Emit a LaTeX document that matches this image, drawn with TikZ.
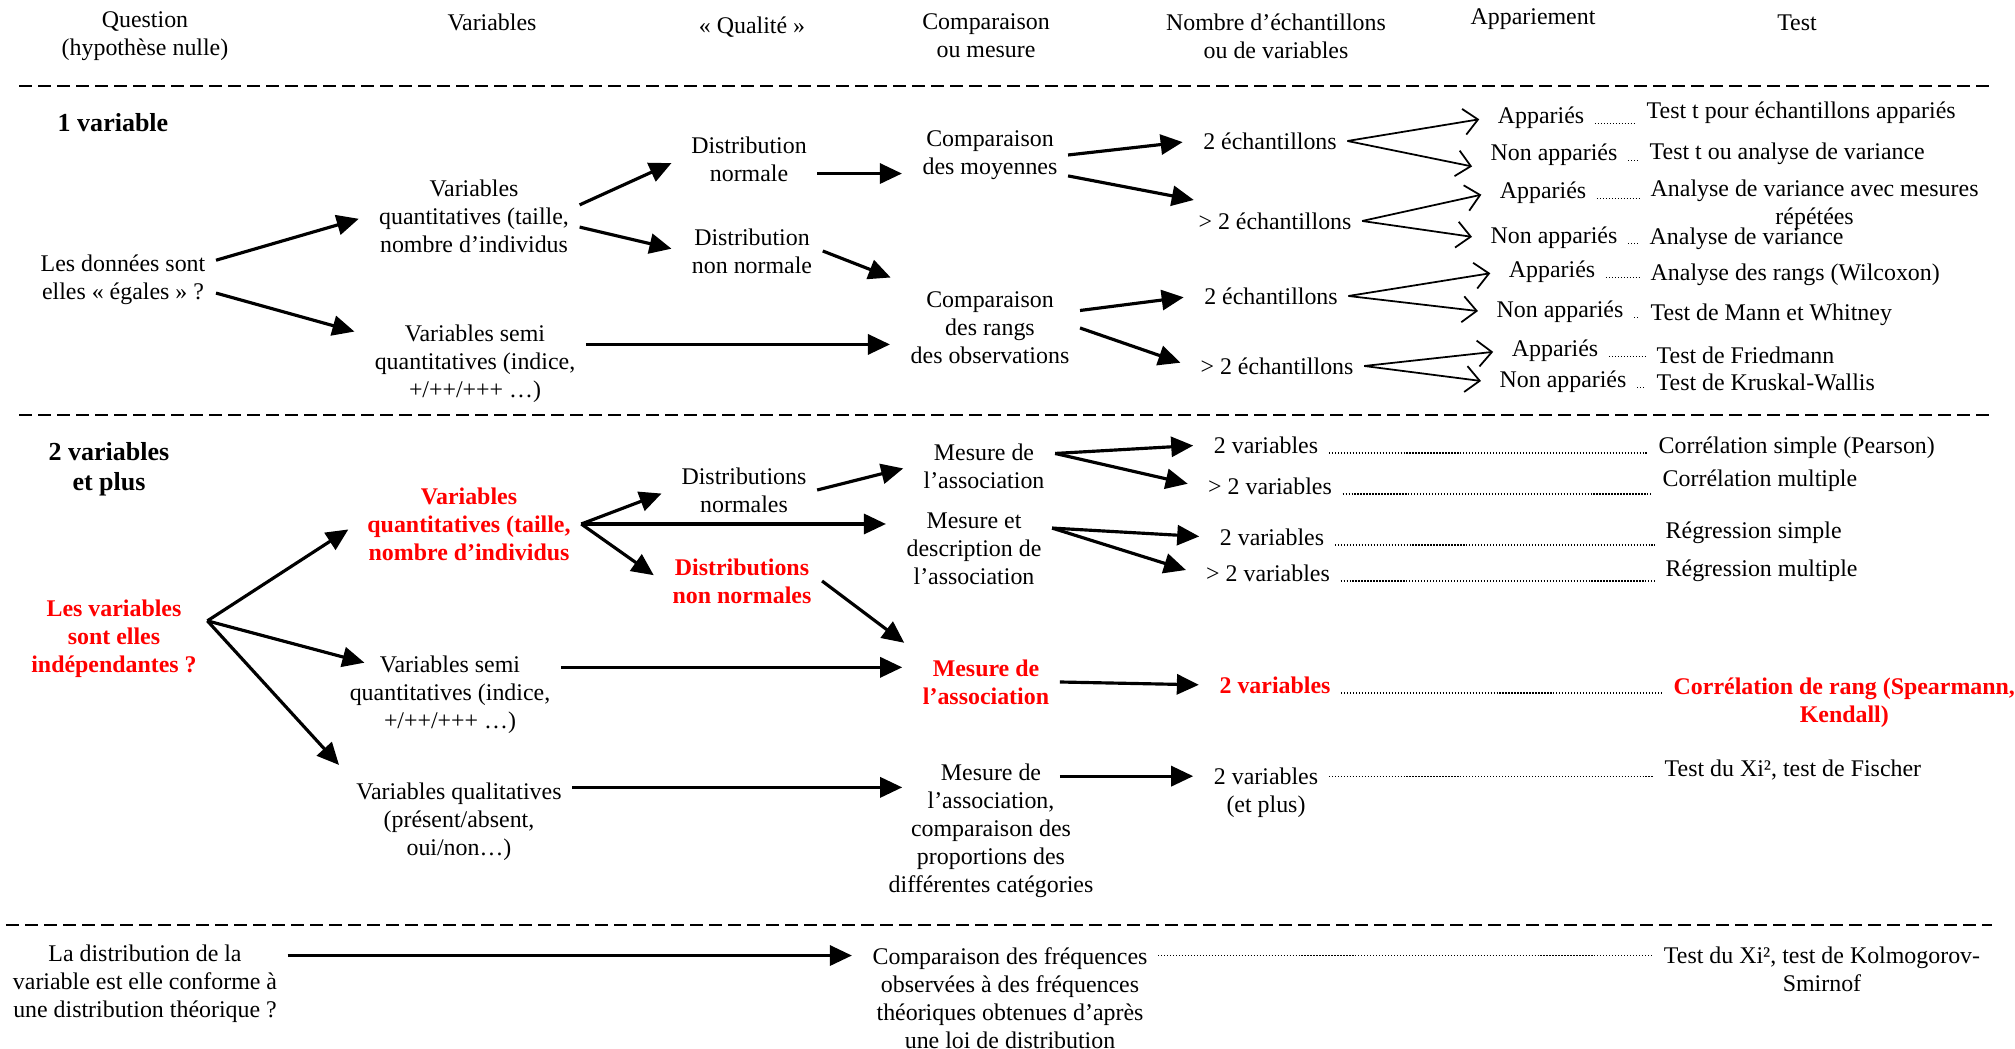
\documentclass[tikz,border=0pt]{standalone}
\usepackage{fontspec}
\setmainfont{Liberation Serif}
\usepackage{xcolor}
\usepackage{tikz}
\usetikzlibrary{arrows.meta}

\begin{document}
\begin{tikzpicture}[
  font=\fontsize{6.8}{8}\selectfont,
  txt/.style={align=center, inner sep=0.1cm},
  hot/.style={txt, text=red, font=\fontsize{6.8}{8}\selectfont\bfseries},
  sect/.style={txt, font=\fontsize{7.4}{8.6}\selectfont\bfseries},
  result/.style={txt, anchor=west},
  hotresult/.style={hot, anchor=west},
  flow/.style={-{Triangle[length=0.22cm, width=0.2cm]}, line width=0.9pt, shorten >=0.1cm},
  fork/.style={-{Straight Barb[length=0.14cm, width=0.26cm]}, line width=0.5pt, shorten >=0.08cm},
  lead/.style={line width=0.4pt, dash pattern=on 0.35pt off 0.5pt},
  sep/.style={line width=0.6pt, dash pattern=on 0.13cm off 0.06cm}
]
  \useasboundingbox (0,0) rectangle (20.15,-10.49);

  % Column heads
  \node[txt] (hq) at (1.45,-0.36) {Question\\(hypothèse nulle)};
  \node[txt] (hv) at (4.92,-0.22) {Variables};
  \node[txt] (hqual) at (7.52,-0.27) {« Qualité »};
  \node[txt] (hcomp) at (9.86,-0.36) {Comparaison\\ou mesure};
  \node[txt] (hnb) at (12.76,-0.36) {Nombre d’échantillons\\ou de variables};
  \node[txt] (happ) at (15.33,-0.19) {Appariement};
  \node[txt] (htest) at (17.97,-0.23) {Test};

  % Separators
  \draw[sep] (0.19,-0.86) -- (19.92,-0.86);
  \draw[sep] (0.19,-4.15) -- (19.92,-4.15);
  \draw[sep] (0.06,-9.25) -- (19.92,-9.25);

  % 1 variable
  \node[sect] (one) at (1.13,-1.23) {1 variable};
  \node[txt] (donnees) at (1.23,-2.80) {Les données sont\\elles « égales » ?};
  \node[txt] (quantA) at (4.74,-2.16) {Variables\\quantitatives (taille,\\nombre d’individus};
  \node[txt] (semiA) at (4.75,-3.64) {Variables semi\\quantitatives (indice,\\+/++/+++ …)};
  \node[txt] (normA) at (7.49,-1.59) {Distribution\\normale};
  \node[txt] (nnormA) at (7.52,-2.51) {Distribution\\non normale};
  \node[txt] (moy) at (9.90,-1.55) {Comparaison\\des moyennes};
  \node[txt] (rangs) at (9.90,-3.28) {Comparaison\\des rangs\\des observations};
  \node[txt] (echA) at (12.70,-1.41) {2 échantillons};
  \node[txt] (echB) at (12.75,-2.21) {> 2 échantillons};
  \node[txt] (echC) at (12.71,-2.96) {2 échantillons};
  \node[txt] (echD) at (12.77,-3.66) {> 2 échantillons};
  \node[txt] (appA) at (15.41,-1.18) {Appariés};
  \node[txt] (napA) at (15.54,-1.55) {Non appariés};
  \node[txt] (appB) at (15.43,-1.93) {Appariés};
  \node[txt] (napB) at (15.54,-2.38) {Non appariés};
  \node[txt] (appC) at (15.52,-2.72) {Appariés};
  \node[txt] (napC) at (15.60,-3.12) {Non appariés};
  \node[txt] (appD) at (15.55,-3.51) {Appariés};
  \node[txt] (napD) at (15.63,-3.82) {Non appariés};
  \node[result] (tA) at (16.36,-1.13) {Test t pour échantillons appariés};
  \node[result] (tB) at (16.39,-1.54) {Test t ou analyse de variance};
  \node[result] (tC) at (16.40,-2.045) {Analyse de variance avec mesures\\répétées};
  \node[result] (tD) at (16.39,-2.39) {Analyse de variance};
  \node[result] (tE) at (16.40,-2.75) {Analyse des rangs (Wilcoxon)};
  \node[result] (tF) at (16.40,-3.15) {Test de Mann et Whitney};
  \node[result] (tG) at (16.46,-3.55) {Test de Friedmann};
  \node[result] (tH) at (16.46,-3.82) {Test de Kruskal-Wallis};

  \path[flow]
    (donnees.12) edge (quantA.west)
    (donnees.-8) edge (semiA.165)
    (quantA.6) edge (normA.west)
    (quantA.-6) edge (nnormA.west)
    (normA.-12) edge (normA.-12 -| moy.west)
    (nnormA.east) edge (rangs.north west)
    (semiA.10) edge (semiA.10 -| rangs.west)
    (moy.east) edge (echA.west)
    (moy.-15) edge (echB.165)
    (rangs.11) edge (echC.west)
    (rangs.east) edge (echD.west);

  \path[fork]
    (echA.east) edge (appA.west) (echA.east) edge (napA.190)
    (echB.east) edge (appB.west) (echB.east) edge (napB.west)
    (echC.east) edge (appC.west) (echC.east) edge (napC.west)
    (echD.east) edge (appD.west) (echD.east) edge (napD.west);

  \path[lead]
    (appA.base east) edge (appA.base east -| tA.west)
    (napA.base east) edge (napA.base east -| tB.west)
    (appB.base east) edge (appB.base east -| tC.west)
    (napB.base east) edge (napB.base east -| tD.west)
    (appC.base east) edge (appC.base east -| tE.west)
    (napC.base east) edge (napC.base east -| tF.west)
    (appD.base east) edge (appD.base east -| tG.west)
    (napD.base east) edge (napD.base east -| tH.west);

  % 2 variables et plus
  \node[sect] (two) at (1.09,-4.69) {2 variables\\et plus};
  \node[hot] (indep) at (1.14,-6.39) {Les variables\\sont elles\\indépendantes ?};
  \node[hot] (quantB) at (4.69,-5.24) {Variables\\quantitatives (taille,\\nombre d’individus};
  \node[txt] (semiB) at (4.50,-6.95) {Variables semi\\quantitatives (indice,\\+/++/+++ …)};
  \node[txt] (qualB) at (4.59,-8.22) {Variables qualitatives\\(présent/absent,\\oui/non…)};
  \node[txt] (normB) at (7.44,-4.90) {Distributions\\normales};
  \node[hot] (nnormB) at (7.42,-5.81) {Distributions\\non normales};
  \node[txt] (mesA) at (9.84,-4.66) {Mesure de\\l’association};
  \node[txt] (mesB) at (9.74,-5.49) {Mesure et\\description de\\l’association};
  \node[hot] (mesC) at (9.86,-6.82) {Mesure de\\l’association};
  \node[txt] (mesD) at (9.91,-8.31) {Mesure de\\l’association,\\comparaison des\\proportions des\\différentes catégories};
  \node[txt] (varA) at (12.66,-4.45) {2 variables};
  \node[txt] (varB) at (12.70,-4.86) {> 2 variables};
  \node[txt] (varC) at (12.72,-5.37) {2 variables};
  \node[txt] (varD) at (12.68,-5.73) {> 2 variables};
  \node[hot] (varE) at (12.75,-6.85) {2 variables};
  \node[txt] (varF) at (12.66,-7.93) {2 variables\\(et plus)};
  \node[result] (cA) at (16.48,-4.48) {Corrélation simple (Pearson)};
  \node[result] (cB) at (16.52,-4.81) {Corrélation multiple};
  \node[result] (cC) at (16.55,-5.33) {Régression simple};
  \node[result] (cD) at (16.55,-5.71) {Régression multiple};
  \node[hotresult] (cE) at (16.63,-7.03) {Corrélation de rang (Spearmann,\\Kendall)};
  \node[result] (cF) at (16.54,-7.70) {Test du Xi², test de Fischer};

  \path[flow]
    (indep.11) edge (quantB.west)
    (indep.11) edge ([xshift=0.35cm]semiB.165)
    (indep.11) edge (qualB.north west)
    (quantB.east) edge (normB.west)
    (quantB.east) edge (quantB.east -| mesB.west)
    (quantB.east) edge (nnormB.west)
    (normB.east) edge (mesA.west)
    (nnormB.east) edge (mesC.north west)
    (semiB.14) edge (semiB.14 -| mesC.west)
    (qualB.17) edge (qualB.17 -| mesC.west)
    (mesA.10) edge (varA.west)
    (mesA.10) edge (varB.west)
    (mesB.15) edge (varC.west)
    (mesB.15) edge (varD.west)
    (mesC.east) edge (varE.west)
    (varF.165 -| mesC.east) edge (varF.165);

  \path[lead]
    (varA.base east) edge (varA.base east -| cA.west)
    (varB.base east) edge (varB.base east -| cB.west)
    (varC.base east) edge (varC.base east -| cC.west)
    (varD.base east) edge (varD.base east -| cD.west)
    (varE.base east) edge (varE.base east -| cE.west)
    (cF.base west -| varF.east) edge (cF.base west);

  % Conformite a une loi
  \node[txt] (distq) at (1.45,-9.84) {La distribution de la\\variable est elle conforme à\\une distribution théorique ?};
  \node[txt] (freq) at (10.10,-9.98) {Comparaison des fréquences\\observées à des fréquences\\théoriques obtenues d’après\\une loi de distribution};
  \node[txt] (ks) at (18.22,-9.69) {Test du Xi², test de Kolmogorov-\\Smirnof};

  \path[flow] (distq.east |- freq.164) edge (freq.164);
  \path[lead] (freq.164 -| freq.east) edge (freq.164 -| ks.west);
\end{tikzpicture}
\end{document}
